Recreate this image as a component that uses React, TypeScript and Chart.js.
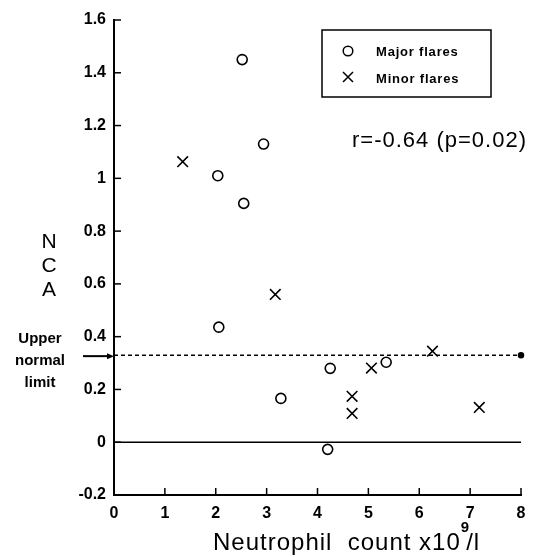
import React, { useEffect, useRef } from "react";
import { Chart, registerables } from "chart.js";

Chart.register(...registerables);

// ---- data ----
const majorLabel = "Major flares";
const minorLabel = "Minor flares";
const majorX = [2.52, 2.94, 2.04, 2.55, 2.06, 3.28, 4.25, 5.35, 4.2];
const majorY = [1.45, 1.13, 1.01, 0.905, 0.436, 0.166, 0.28, 0.303, -0.027];
const minorX = [1.35, 3.17, 5.06, 4.68, 4.68, 6.26, 7.18];
const minorY = [1.063, 0.56, 0.281, 0.174, 0.109, 0.345, 0.132];
const upperNormalLimit = 0.33;
const xRange = [0, 8];
const yRange = [-0.2, 1.6];
const yLabelLetters = ["N", "C", "A"];
const limitLabelLines = ["Upper", "normal", "limit"];
const corrText = "r=-0.64 (p=0.02)";
const xTitleMain = "Neutrophil  count x10";
const xTitleSup = "9";
const xTitleEnd = "/l";

const FONT = '"Liberation Sans", Arial, sans-serif';

const decor = {
  id: "decor",
  afterDraw(chart: any) {
    const ctx = chart.ctx;
    const xs = chart.scales.x;
    const ys = chart.scales.y;
    const { left, bottom } = chart.chartArea;
    ctx.save();
    ctx.strokeStyle = "#000";
    ctx.fillStyle = "#000";
    ctx.lineWidth = 1.5;
    // inward tick marks
    xs.ticks.forEach((t: any) => {
      if (t.value === xRange[0]) return;
      const px = xs.getPixelForValue(t.value);
      ctx.beginPath();
      ctx.moveTo(px, bottom);
      ctx.lineTo(px, bottom - 7);
      ctx.stroke();
    });
    ys.ticks.forEach((t: any) => {
      if (t.value <= yRange[0] + 1e-9) return;
      const py = ys.getPixelForValue(t.value);
      ctx.beginPath();
      ctx.moveTo(left, py);
      ctx.lineTo(left + 7, py);
      ctx.stroke();
    });

    // NCA label
    ctx.font = `21px ${FONT}`;
    ctx.textAlign = "center";
    ctx.textBaseline = "middle";
    const ncaY = [242, 266, 290];
    yLabelLetters.forEach((c, i) => ctx.fillText(c, 49, ncaY[i]));

    // Upper normal limit label
    ctx.font = `bold 15px ${FONT}`;
    const lY = [339, 361, 383];
    limitLabelLines.forEach((s, i) => ctx.fillText(s, 40, lY[i]));

    // arrow
    const ay = ys.getPixelForValue(upperNormalLimit) + 1;
    ctx.lineWidth = 2;
    ctx.beginPath();
    ctx.moveTo(83, ay);
    ctx.lineTo(left - 4, ay);
    ctx.stroke();
    ctx.beginPath();
    ctx.moveTo(left, ay);
    ctx.lineTo(left - 7, ay - 3);
    ctx.lineTo(left - 7, ay + 3);
    ctx.closePath();
    ctx.fill();

    // correlation text
    ctx.font = `22px ${FONT}`;
    (ctx as any).letterSpacing = "1px";
    ctx.textAlign = "left";
    ctx.fillText(corrText, 352, 141);
    (ctx as any).letterSpacing = "0px";

    // legend box
    const bx = 322, by = 30, bw = 169, bh = 67;
    ctx.lineWidth = 1.5;
    ctx.strokeRect(bx, by, bw, bh);
    const ds = chart.data.datasets;
    ctx.font = `bold 13px ${FONT}`;
    (ctx as any).letterSpacing = "0.8px";
    ctx.beginPath();
    ctx.arc(bx + 26, by + 21, 4.8, 0, Math.PI * 2);
    ctx.stroke();
    ctx.fillText(ds[0].label, bx + 54, by + 22);
    const cx = bx + 26, cy = by + 47, r = 5;
    ctx.beginPath();
    ctx.moveTo(cx - r, cy - r);
    ctx.lineTo(cx + r, cy + r);
    ctx.moveTo(cx + r, cy - r);
    ctx.lineTo(cx - r, cy + r);
    ctx.stroke();
    ctx.fillText(ds[1].label, bx + 54, by + 49);
    (ctx as any).letterSpacing = "0px";

    // x title with superscript
    ctx.textBaseline = "alphabetic";
    ctx.font = `24px ${FONT}`;
    (ctx as any).letterSpacing = "1px";
    let tx = 213;
    ctx.fillText(xTitleMain, tx, 550);
    tx += ctx.measureText(xTitleMain).width;
    ctx.font = `bold 15px ${FONT}`;
    ctx.fillText(xTitleSup, tx, 532);
    tx += ctx.measureText(xTitleSup).width - 4;
    ctx.font = `24px ${FONT}`;
    ctx.fillText(xTitleEnd, tx, 550);
    (ctx as any).letterSpacing = "0px";
    ctx.restore();
  },
};

export default function App() {
  const ref = useRef<HTMLCanvasElement | null>(null);
  useEffect(() => {
    if (!ref.current) return;
    const tickFont = { family: FONT, size: 16, weight: "bold" as const };
    const fmt = (v: any) => String(Number(Number(v).toFixed(1)));
    const chart = new Chart(ref.current, {
      type: "scatter",
      data: {
        datasets: [
          {
            label: majorLabel,
            data: majorX.map((x, i) => ({ x, y: majorY[i] })),
            pointStyle: "circle",
            pointRadius: 5,
            borderColor: "#000",
            backgroundColor: "rgba(0,0,0,0)",
            borderWidth: 1.6,
          },
          {
            label: minorLabel,
            data: minorX.map((x, i) => ({ x, y: minorY[i] })),
            pointStyle: "crossRot",
            pointRadius: 7.5,
            borderColor: "#000",
            backgroundColor: "#000",
            borderWidth: 1.6,
          },
          {
            label: "zero",
            data: [
              { x: xRange[0], y: 0 },
              { x: xRange[1], y: 0 },
            ],
            showLine: true,
            pointRadius: 0,
            borderColor: "#000",
            borderWidth: 1.5,
          },
          {
            label: "upper",
            data: [
              { x: xRange[0], y: upperNormalLimit },
              { x: xRange[1], y: upperNormalLimit },
            ],
            showLine: true,
            borderDash: [4, 3],
            pointRadius: [0, 2.5],
            pointBackgroundColor: "#000",
            borderColor: "#000",
            borderWidth: 1.5,
            clip: false,
          } as any,
        ],
      },
      options: {
        responsive: false,
        animation: false,
        layout: { padding: { left: 0, right: 21, top: 20, bottom: 0 } },
        plugins: { legend: { display: false }, tooltip: { enabled: false } },
        scales: {
          x: {
            type: "linear",
            min: xRange[0],
            max: xRange[1],
            ticks: { stepSize: 1, color: "#000", font: tickFont, padding: 9, callback: fmt },
            grid: { display: false, drawTicks: false },
            border: { display: true, color: "#000", width: 2 },
            afterFit: (s: any) => {
              s.height = 62;
            },
          },
          y: {
            type: "linear",
            min: yRange[0],
            max: yRange[1],
            ticks: { stepSize: 0.2, color: "#000", font: tickFont, padding: 8, callback: fmt },
            grid: { display: false, drawTicks: false },
            border: { display: true, color: "#000", width: 2 },
            afterFit: (s: any) => {
              s.width = 114;
            },
          },
        },
      },
      plugins: [decor],
    });
    return () => chart.destroy();
  }, []);
  return (
    <div style={{ position: "absolute", left: 0, top: 0, width: 542, height: 557, background: "#fff" }}>
      <canvas ref={ref} width={542} height={557} style={{ display: "block" }} />
    </div>
  );
}
